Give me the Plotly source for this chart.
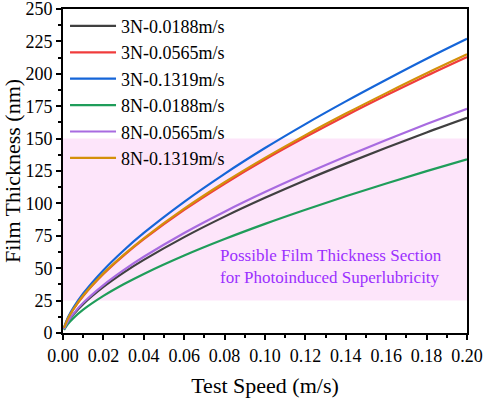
import plotly.graph_objects as go

speed = [0.0005, 0.0025, 0.005, 0.01, 0.02, 0.03, 0.04, 0.06, 0.08, 0.10, 0.12, 0.14, 0.16, 0.18, 0.20]

h_3N_00188 = [2.9, 8.8, 14.0, 22.3, 35.5, 46.6, 56.4, 74.0, 89.8, 104.3, 117.9, 130.7, 142.9, 154.7, 166.0]
h_3N_00565 = [3.8, 11.3, 18.0, 28.6, 45.5, 59.7, 72.4, 95.0, 115.2, 133.9, 151.2, 167.7, 183.4, 198.5, 213.0]
h_3N_01319 = [4.1, 12.1, 19.2, 30.5, 48.5, 63.7, 77.2, 101.2, 122.8, 142.7, 161.2, 178.7, 195.4, 211.6, 227.0]
h_8N_00188 = [2.4, 7.1, 11.3, 18.0, 28.6, 37.6, 45.6, 59.8, 72.5, 84.2, 95.1, 105.5, 115.4, 124.9, 134.0]
h_8N_00565 = [3.1, 9.2, 14.6, 23.3, 37.0, 48.5, 58.8, 77.2, 93.6, 108.7, 122.8, 136.2, 149.0, 161.2, 173.0]
h_8N_01319 = [3.9, 11.4, 18.1, 28.9, 46.0, 60.3, 73.1, 95.9, 116.3, 135.1, 152.7, 169.3, 185.1, 200.4, 215.0]

names = ["3N-0.0188m/s", "3N-0.0565m/s", "3N-0.1319m/s", "8N-0.0188m/s", "8N-0.0565m/s", "8N-0.1319m/s"]
series = [h_3N_00188, h_3N_00565, h_3N_01319, h_8N_00188, h_8N_00565, h_8N_01319]
colors = ["#404040", "#f03c3c", "#1565d8", "#1f9d5a", "#a86be0", "#d4900a"]

band = [25, 150]
note = "Possible Film Thickness Section<br>for Photoinduced Superlubricity"

FONT = "Liberation Serif, Times New Roman, serif"

fig = go.Figure()
for n, y, c in zip(names, series, colors):
    fig.add_trace(go.Scatter(x=speed, y=y, name=n, mode="lines",
                             line=dict(color=c, width=2.2, shape="spline")))

fig.add_shape(type="rect", xref="x", yref="y", x0=0, x1=0.2, y0=band[0], y1=band[1],
              fillcolor="#fde5fa", line=dict(width=0), layer="below")

fig.add_annotation(x=0.0768, y=51, xref="x", yref="y", text=note, showarrow=False,
                   xanchor="left", align="left",
                   font=dict(family=FONT, size=17, color="#9b30ff"))

axis_common = dict(showline=True, linecolor="black", linewidth=2, mirror=True,
                   ticks="outside", ticklen=5, tickwidth=1.5, tickcolor="black",
                   showgrid=False, zeroline=False, automargin=False,
                   ticklabeloverflow="allow",
                   tickfont=dict(family=FONT, size=18, color="black"))

fig.update_xaxes(range=[0, 0.2], dtick=0.02, tickformat=".2f",
                 title=dict(text="Test Speed (m/s)", font=dict(family=FONT, size=22, color="black")),
                 minor=dict(ticks="outside", ticklen=3, tickwidth=1.5, tickcolor="black", dtick=0.01),
                 **axis_common)
fig.update_yaxes(range=[0, 250], dtick=25,
                 title=dict(text="Film Thickness (nm)", font=dict(family=FONT, size=22, color="black")),
                 minor=dict(ticks="outside", ticklen=3, tickwidth=1.5, tickcolor="black", dtick=12.5),
                 **axis_common)

fig.update_layout(
    width=484, height=398,
    margin=dict(l=63, r=17, t=9, b=65, autoexpand=False),
    paper_bgcolor="white", plot_bgcolor="white",
    font=dict(family=FONT, color="black"),
    legend=dict(x=0.005, y=1.004, xanchor="left", yanchor="top",
                bgcolor="rgba(0,0,0,0)", borderwidth=0,
                font=dict(family=FONT, size=18, color="black"),
                itemwidth=46, tracegroupgap=0),
    showlegend=True,
)

fig.write_html("out.html", config={"displayModeBar": False},
               post_script="document.body.style.margin='0';document.body.style.padding='0';")
